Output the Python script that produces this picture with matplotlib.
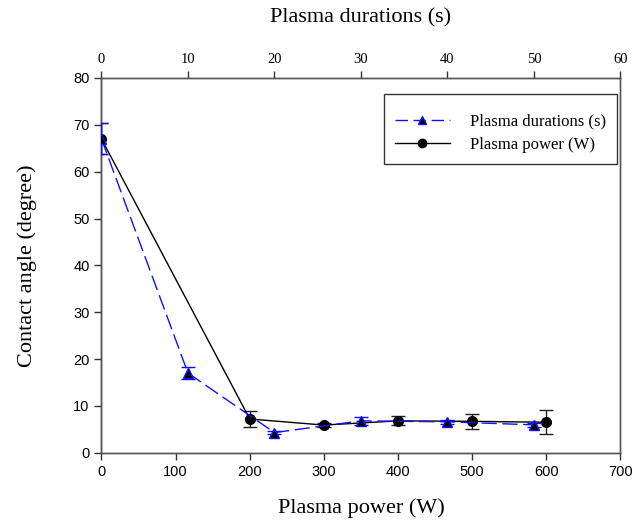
import matplotlib
matplotlib.use("Agg")
import matplotlib.pyplot as plt
from matplotlib.lines import Line2D

# Data
power_w = [0, 200, 300, 400, 500, 600]
power_angle = [67.0, 7.2, 5.9, 6.8, 6.7, 6.5]
power_err = [3.3, 1.8, 0.5, 0.95, 1.65, 2.6]

dur_s = [0, 10, 20, 30, 40, 50]
dur_angle = [67.0, 17.0, 4.3, 6.8, 6.6, 5.95]
dur_err = [3.3, 1.2, 0.3, 0.9, 0.4, 0.4]

bottom_ticks = [0, 100, 200, 300, 400, 500, 600, 700]
top_ticks = [0, 10, 20, 30, 40, 50, 60]
y_ticks = [0, 10, 20, 30, 40, 50, 60, 70, 80]

serif = "Liberation Serif"
sans = "Liberation Sans"
blue = "#1010ff"

fig = plt.figure(figsize=(6.39, 5.2), dpi=100)
ax = fig.add_axes([0.1588, 0.1294, 0.8122, 0.7206])
ax2 = ax.twiny()

# Power series (bottom axis)
ax.errorbar(power_w, power_angle, yerr=power_err, color="black", lw=1.0,
            marker="o", ms=7, mfc="black", mec="black",
            ecolor="#222222", elinewidth=1.0, capsize=5, capthick=1.0,
            zorder=3)

# Duration series (top axis)
ax2.errorbar(dur_s, dur_angle, yerr=dur_err, color=blue, lw=1.0,
             dashes=(11, 4), marker="^", ms=7.5, mfc="black", mec=blue,
             ecolor=blue, elinewidth=1.0, capsize=5, capthick=1.0,
             zorder=3)

ax.set_xlim(0, 700)
ax.set_ylim(0, 80)
ax2.set_xlim(0, 60)
ax.set_xticks(bottom_ticks)
ax.set_yticks(y_ticks)
ax2.set_xticks(top_ticks)

for a in (ax, ax2):
    for s in a.spines.values():
        s.set_color("#555555")
        s.set_linewidth(1.0)
ax.spines["left"].set_color("black")

ax.tick_params(direction="out", length=5, width=1.0, colors="#333333", labelcolor="black")
ax2.tick_params(direction="out", length=5, width=1.0, colors="#333333", labelcolor="black")

for lab in ax.get_xticklabels() + ax.get_yticklabels():
    lab.set_fontfamily(sans)
    lab.set_fontsize(10.5)
for lab in ax2.get_xticklabels():
    lab.set_fontfamily(serif)
    lab.set_fontsize(10.5)

ax.set_xlabel("Plasma power (W)", fontfamily=serif, fontsize=16, labelpad=14)
ax.set_ylabel("Contact angle (degree)", fontfamily=serif, fontsize=16, labelpad=26)
ax2.set_xlabel("Plasma durations (s)", fontfamily=serif, fontsize=16, labelpad=22)

hd = Line2D([], [], color=blue, lw=1.0, dashes=(9, 4), marker="^", ms=6,
            mfc="black", mec=blue)
hp = Line2D([], [], color="black", lw=1.0, marker="o", ms=6,
            mfc="black", mec="black")
leg = ax2.legend([hd, hp], ["Plasma durations (s)", "Plasma power (W)"],
                 loc="upper right", bbox_to_anchor=(0.993, 0.9565),
                 prop={"family": serif, "size": 12}, frameon=True,
                 fancybox=False, handlelength=3.3, handletextpad=1.2,
                 borderpad=0.65, labelspacing=0.45, borderaxespad=0,
                 title=" ", title_fontsize=1)
leg.get_frame().set_edgecolor("black")
leg.get_frame().set_linewidth(1.0)

fig.savefig("out.png", dpi=100)
